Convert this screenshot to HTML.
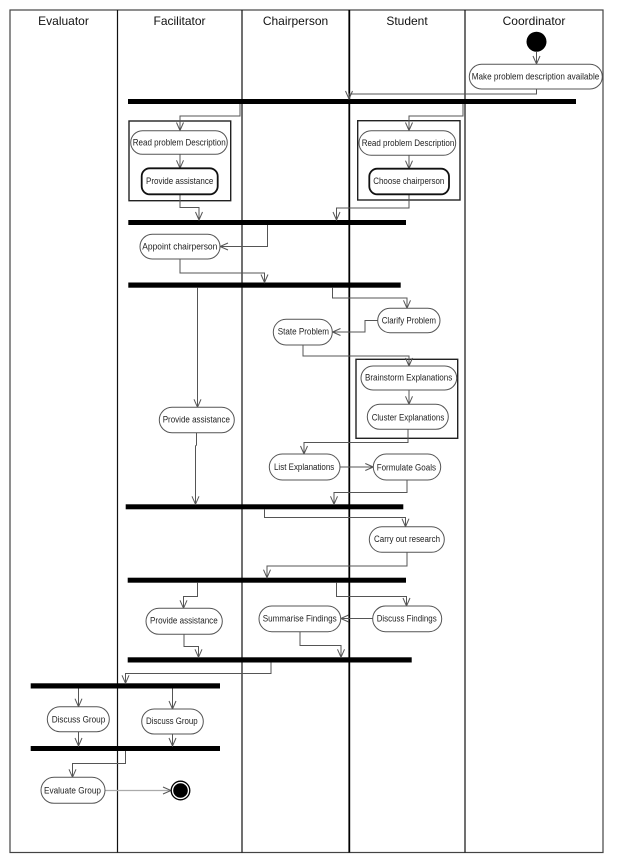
<!DOCTYPE html>
<html><head><meta charset="utf-8"><style>
html,body{margin:0;padding:0;background:#fff;}
svg{display:block;}
.h{font-family:"Liberation Sans",Arial,sans-serif;font-size:12px;fill:#111;text-anchor:middle;}
.t{font-family:"Liberation Sans",Arial,sans-serif;font-size:9px;fill:#222;}
.c{fill:none;stroke:#555;stroke-width:1;}
.p{fill:#fff;stroke:#555;stroke-width:1;}
.b{fill:#fff;stroke:#111;stroke-width:1.8;}
.g{fill:none;stroke:#222;stroke-width:1.4;}
.bar{fill:#000;}
</style></head><body>
<svg width="617" height="859" viewBox="0 0 617 859" xmlns="http://www.w3.org/2000/svg">
<rect x="0" y="0" width="617" height="859" fill="#fff"/>
<!-- frame & lanes -->
<rect x="10" y="10" width="593" height="842.5" fill="none" stroke="#444" stroke-width="1.2"/>
<line x1="117.5" y1="10" x2="117.5" y2="852.5" stroke="#111" stroke-width="1.2"/>
<line x1="242" y1="10" x2="242" y2="852.5" stroke="#111" stroke-width="1.2"/>
<line x1="349.3" y1="10" x2="349.3" y2="852.5" stroke="#000" stroke-width="1.8"/>
<line x1="465" y1="10" x2="465" y2="852.5" stroke="#111" stroke-width="1.2"/>
<text class="h" x="63.5" y="25">Evaluator</text>
<text class="h" x="179.5" y="25">Facilitator</text>
<text class="h" x="295.5" y="25">Chairperson</text>
<text class="h" x="407" y="25">Student</text>
<text class="h" x="534" y="25">Coordinator</text>

<!-- start -->
<circle cx="536.5" cy="41.7" r="10" fill="#000"/>

<!-- group boxes -->
<rect class="g" x="129" y="121" width="101.7" height="79.7"/>
<rect class="g" x="357.7" y="120.7" width="102.3" height="79.3"/>
<rect class="g" x="356" y="359.3" width="101.7" height="79"/>

<!-- bars -->
<rect class="bar" x="128" y="99" width="448" height="5"/>
<rect class="bar" x="128.3" y="220" width="277.7" height="5"/>
<rect class="bar" x="128.3" y="282.5" width="272.4" height="5.2"/>
<rect class="bar" x="125.7" y="504.3" width="277.6" height="5"/>
<rect class="bar" x="127.7" y="577.7" width="278.3" height="5"/>
<rect class="bar" x="127.7" y="657.3" width="284" height="5.2"/>
<rect class="bar" x="30.7" y="683.3" width="189.3" height="5.2"/>
<rect class="bar" x="30.7" y="746" width="189.3" height="5"/>

<!-- connectors -->
<g class="c">
<polyline points="536.5,52 536.5,64"/>
<polyline points="536.5,89 536.5,94 349,94 349,99"/>
<polyline points="240,104 240,116 180,116 180,130.5"/>
<polyline points="463,104 463,116 409,116 409,130.5"/>
<polyline points="180,154.3 180,168.3"/>
<polyline points="409,155.3 409,168.7"/>
<polyline points="180,194.3 180,207.5 199,207.5 199,220"/>
<polyline points="409,194.3 409,208 336.5,208 336.5,220"/>
<polyline points="267.5,225 267.5,246.5 220,246.5"/>
<polyline points="180,259 180,273 264.5,273 264.5,282.5"/>
<polyline points="197.5,287.7 197.5,407.3"/>
<polyline points="332.5,287.7 332.5,298 407,298 407,308.3"/>
<polyline points="377.7,320.5 365,320.5 365,332 332.5,332"/>
<polyline points="303,345 303,356 409,356 409,366"/>
<polyline points="409,390 409,404.3"/>
<polyline points="408,429.3 408,442.5 304,442.5 304,454"/>
<polyline points="340,467 373.3,467"/>
<polyline points="407,480 407,492.5 334,492.5 334,504.3"/>
<polyline points="196.5,432.7 196.5,445 195.5,446 195.5,504.3"/>
<polyline points="264.5,509.3 264.5,517.5 405.5,517.5 405.5,526.7"/>
<polyline points="407,552.3 407,566 267,566 267,577.7"/>
<polyline points="197.5,582.7 197.5,596.5 183.5,596.5 183.5,608.3"/>
<polyline points="336.5,582.7 336.5,596.5 406.5,596.5 406.5,606"/>
<polyline points="372.7,618.5 340.7,618.5"/>
<polyline points="184,634.3 184,646.5 198.5,646.5 198.5,657.3"/>
<polyline points="300,631.7 300,645.5 341,645.5 341,657.3"/>
<polyline points="271,662.5 271,673.5 125.5,673.5 125.5,683.3"/>
<polyline points="78.5,688.5 78.5,706.7"/>
<polyline points="172.5,688.5 172.5,709"/>
<polyline points="78.5,731.7 78.5,746"/>
<polyline points="172.5,734 172.5,746"/>
<polyline points="125.5,751 125.5,763.5 72.5,763.5 72.5,777.3"/>
</g>
<polyline points="105,790.5 171,790.5" fill="none" stroke="#aaa" stroke-width="1.2"/>

<!-- arrowheads -->
<g fill="none" stroke="#555" stroke-width="1">
<polyline points="533,56 536.5,64 540,56"/>
<polyline points="345.5,91 349,99 352.5,91"/>
<polyline points="176.5,122.5 180,130.5 183.5,122.5"/>
<polyline points="405.5,122.5 409,130.5 412.5,122.5"/>
<polyline points="176.5,160.3 180,168.3 183.5,160.3"/>
<polyline points="405.5,160.7 409,168.7 412.5,160.7"/>
<polyline points="195.5,212 199,220 202.5,212"/>
<polyline points="333,212 336.5,220 340,212"/>
<polyline points="228,243 220,246.5 228,250"/>
<polyline points="261,274.5 264.5,282.5 268,274.5"/>
<polyline points="194,399.3 197.5,407.3 201,399.3"/>
<polyline points="403.5,300.3 407,308.3 410.5,300.3"/>
<polyline points="340.5,328.5 332.5,332 340.5,335.5"/>
<polyline points="405.5,358 409,366 412.5,358"/>
<polyline points="405.5,396.3 409,404.3 412.5,396.3"/>
<polyline points="300.5,446 304,454 307.5,446"/>
<polyline points="365.3,463.5 373.3,467 365.3,470.5"/>
<polyline points="330.5,496.3 334,504.3 337.5,496.3"/>
<polyline points="192,496.3 195.5,504.3 199,496.3"/>
<polyline points="402,518.7 405.5,526.7 409,518.7"/>
<polyline points="263.5,569.7 267,577.7 270.5,569.7"/>
<polyline points="180,600.3 183.5,608.3 187,600.3"/>
<polyline points="403,598 406.5,606 410,598"/>
<polyline points="348.7,615 340.7,618.5 348.7,622"/>
<polyline points="195,649.3 198.5,657.3 202,649.3"/>
<polyline points="337.5,649.3 341,657.3 344.5,649.3"/>
<polyline points="122,675.3 125.5,683.3 129,675.3"/>
<polyline points="75,698.7 78.5,706.7 82,698.7"/>
<polyline points="169,701 172.5,709 176,701"/>
<polyline points="75,738 78.5,746 82,738"/>
<polyline points="169,738 172.5,746 176,738"/>
<polyline points="69,769.3 72.5,777.3 76,769.3"/>
<polyline points="163,787 171,790.5 163,794"/>
</g>

<!-- activity nodes -->
<rect class="p" x="469.3" y="64.3" width="133" height="24.7" rx="12.3"/>
<rect class="p" x="130.7" y="130.7" width="96.6" height="23.6" rx="11.8"/>
<rect class="b" x="141.7" y="168.3" width="76" height="26" rx="8"/>
<rect class="p" x="359" y="130.7" width="96.7" height="24.6" rx="12.3"/>
<rect class="b" x="369.3" y="168.7" width="79.7" height="25.6" rx="8"/>
<rect class="p" x="140" y="234.3" width="80" height="24.7" rx="12.3"/>
<rect class="p" x="377.7" y="308.3" width="62.3" height="24.4" rx="12.2"/>
<rect class="p" x="273.3" y="319.3" width="59" height="25.7" rx="12.8"/>
<rect class="p" x="361" y="366" width="95.7" height="24" rx="12"/>
<rect class="p" x="367.3" y="404.3" width="81" height="25" rx="12.5"/>
<rect class="p" x="159.3" y="407.3" width="75" height="25.4" rx="12.7"/>
<rect class="p" x="269.3" y="454" width="70.7" height="26" rx="13"/>
<rect class="p" x="373.3" y="454" width="67.4" height="26" rx="13"/>
<rect class="p" x="369.3" y="526.7" width="75" height="25.6" rx="12.8"/>
<rect class="p" x="146" y="608.3" width="76.3" height="26" rx="13"/>
<rect class="p" x="259" y="606" width="81.7" height="25.7" rx="12.8"/>
<rect class="p" x="372.7" y="606" width="69" height="25.7" rx="12.8"/>
<rect class="p" x="47.3" y="706.7" width="62" height="25" rx="12.5"/>
<rect class="p" x="141.7" y="709" width="61.6" height="25" rx="12.5"/>
<rect class="p" x="41" y="777.3" width="64" height="26" rx="13"/>

<!-- end -->
<circle cx="180.5" cy="790.5" r="9.3" fill="#fff" stroke="#000" stroke-width="1.3"/>
<circle cx="180.5" cy="790.5" r="7.3" fill="#000"/>

<!-- labels -->
<g class="t">
<text x="471.7" y="79.7" textLength="127.6" lengthAdjust="spacingAndGlyphs">Make problem description available</text>
<text x="132.7" y="145.3" textLength="93" lengthAdjust="spacingAndGlyphs">Read problem Description</text>
<text x="146" y="184" textLength="67.3" lengthAdjust="spacingAndGlyphs">Provide assistance</text>
<text x="361.7" y="146" textLength="92.6" lengthAdjust="spacingAndGlyphs">Read problem Description</text>
<text x="373.3" y="184" textLength="71" lengthAdjust="spacingAndGlyphs">Choose chairperson</text>
<text x="142.3" y="249.7" textLength="75" lengthAdjust="spacingAndGlyphs">Appoint chairperson</text>
<text x="381.7" y="323.7" textLength="54.3" lengthAdjust="spacingAndGlyphs">Clarify Problem</text>
<text x="277.7" y="334.7" textLength="51.3" lengthAdjust="spacingAndGlyphs">State Problem</text>
<text x="365" y="380.3" textLength="87.3" lengthAdjust="spacingAndGlyphs">Brainstorm Explanations</text>
<text x="371.7" y="420.3" textLength="72.6" lengthAdjust="spacingAndGlyphs">Cluster Explanations</text>
<text x="162.7" y="422.7" textLength="67.3" lengthAdjust="spacingAndGlyphs">Provide assistance</text>
<text x="274" y="469.9" textLength="60.3" lengthAdjust="spacingAndGlyphs">List Explanations</text>
<text x="376.7" y="470.3" textLength="59.3" lengthAdjust="spacingAndGlyphs">Formulate Goals</text>
<text x="374" y="542" textLength="66" lengthAdjust="spacingAndGlyphs">Carry out research</text>
<text x="150" y="623.7" textLength="67.7" lengthAdjust="spacingAndGlyphs">Provide assistance</text>
<text x="262.7" y="621.3" textLength="74" lengthAdjust="spacingAndGlyphs">Summarise Findings</text>
<text x="376.7" y="621.3" textLength="60" lengthAdjust="spacingAndGlyphs">Discuss Findings</text>
<text x="51.7" y="722.3" textLength="53.6" lengthAdjust="spacingAndGlyphs">Discuss Group</text>
<text x="146" y="724" textLength="51.7" lengthAdjust="spacingAndGlyphs">Discuss Group</text>
<text x="44" y="793.3" textLength="57" lengthAdjust="spacingAndGlyphs">Evaluate Group</text>
</g>
</svg>
</body></html>
